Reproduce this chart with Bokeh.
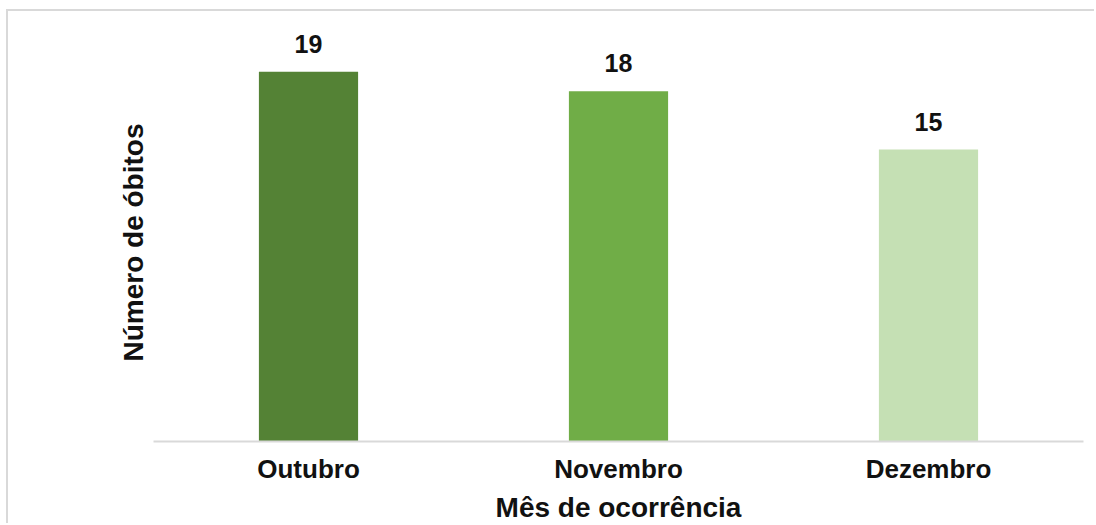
from bokeh.plotting import figure
from bokeh.models import ColumnDataSource, FactorRange, Range1d, LabelSet, Title
from bokeh.core.properties import value
from bokeh.embed import file_html
from bokeh.resources import INLINE

# Óbitos por mês de ocorrência
meses = ["Outubro", "Novembro", "Dezembro"]
obitos = [19, 18, 15]
cores = ["#548235", "#70AD47", "#C5E0B4"]

FONT = "Liberation Sans"
TEXT = "#111111"

src = ColumnDataSource(dict(
    mes=meses,
    obitos=obitos,
    cor=cores,
    rotulo=[str(v) for v in obitos],
))

p = figure(
    width=1088, height=514,
    x_range=FactorRange(*meses, range_padding=0),
    y_range=Range1d(0, 21.63),
    output_backend="svg", toolbar_location=None,
    min_border_left=145, min_border_right=13,
    min_border_top=9, min_border_bottom=84,
)
p.margin = (9, 0, 0, 6)
p.styles = {"border-left": "2px solid #d9d9d9", "border-top": "2px solid #d9d9d9"}

p.vbar(x="mes", top="obitos", width=0.32, fill_color="cor", line_color=None, source=src)

p.add_layout(LabelSet(
    x="mes", y="obitos", text="rotulo", source=src,
    y_offset=19, text_align="center", text_baseline="alphabetic",
    text_font=value(FONT), text_font_size=value("25px"), text_font_style="bold",
    text_color=TEXT,
))

# vertical title of the value axis
p.add_layout(Title(
    text="Número de óbitos", align="right", offset=103, standoff=9,
    text_font=FONT, text_font_size="28px", text_font_style="bold", text_color=TEXT,
), "left")

p.outline_line_color = None
p.grid.grid_line_color = None
p.background_fill_color = "white"
p.border_fill_color = "white"

# category axis
xa = p.xaxis[0]
xa.axis_line_color = "#d9d9d9"
xa.axis_line_width = 2
xa.major_tick_line_color = None
xa.minor_tick_line_color = None
xa.major_label_standoff = 6
xa.major_label_text_font = FONT
xa.major_label_text_font_size = "26px"
xa.major_label_text_font_style = "bold"
xa.major_label_text_color = TEXT
xa.axis_label = "Mês de ocorrência"
xa.axis_label_standoff = 5
xa.axis_label_text_font = FONT
xa.axis_label_text_font_size = "28px"
xa.axis_label_text_font_style = "bold"
xa.axis_label_text_color = TEXT

p.yaxis.visible = False

open("out.html", "w").write(file_html(p, INLINE))
